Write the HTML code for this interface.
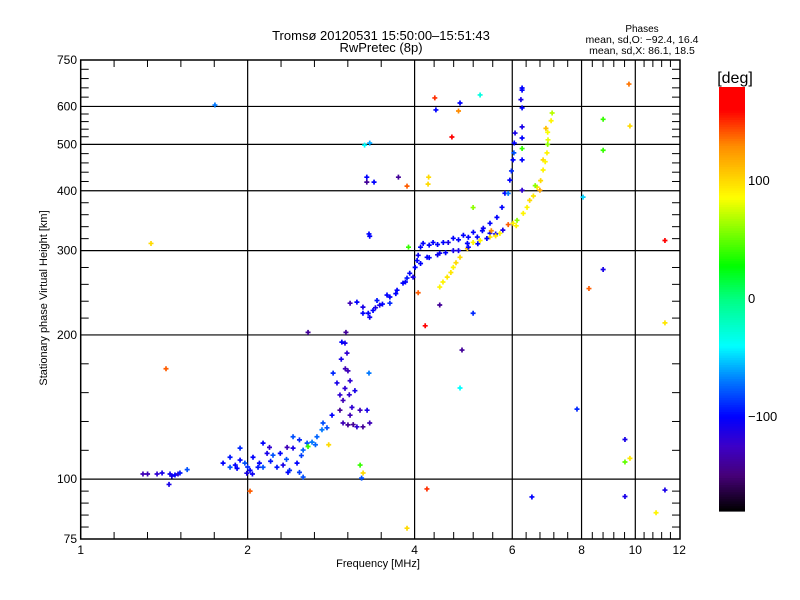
<!DOCTYPE html>
<html><head><meta charset="utf-8"><style>
html,body{margin:0;padding:0;background:#fff;width:800px;height:600px;overflow:hidden}
svg text{font-family:"Liberation Sans",sans-serif;fill:#000}
</style></head><body>
<svg id="chart" width="800" height="600" viewBox="0 0 800 600" xmlns="http://www.w3.org/2000/svg">
<rect width="800" height="600" fill="#fff"/>
<text x="381" y="40" font-size="13" text-anchor="middle">Tromsø 20120531 15:50:00–15:51:43</text>
<text x="381" y="52" font-size="13" text-anchor="middle">RwPretec (8p)</text>
<text x="642" y="32" font-size="10" text-anchor="middle">Phases</text>
<text x="642" y="43" font-size="10.5" text-anchor="middle">mean, sd,O: −92.4, 16.4</text>
<text x="642" y="54" font-size="10.5" text-anchor="middle">mean, sd,X:  86.1, 18.5</text>
<text x="378" y="567" font-size="11" text-anchor="middle">Frequency [MHz]</text>
<text x="0" y="0" font-size="11" text-anchor="middle" transform="translate(47,298) rotate(-90)">Stationary phase Virtual Height [km]</text>
<text x="735" y="83" font-size="16" text-anchor="middle">[deg]</text>
<g id="grid"></g><g id="pts"></g><g id="cbar"></g>
<rect x="80.7" y="60" width="599.3" height="479" fill="none" stroke="#000" stroke-width="1.5"/>
</svg>
<script>
const xTickLabels=[1,2,4,6,8,10,12];
const yTickLabels=[75,100,200,300,400,500,600,750];
const cbarTicks=[100,0,-100];
const freqs=[1.295,1.373,1.402,1.449,1.46,1.479,1.498,1.51,1.556,1.443,1.32,
1.806,1.859,1.859,1.914,1.938,1.938,1.977,1.993,2.02,2.045,2.088,2.132,2.132,2.168,2.19,2.222,2.259,2.29,2.317,2.356,2.365,2.38,2.415,2.415,2.455,2.48,2.48,2.518,2.518,2.56,2.613,2.667,2.723,2.735,2.04,2.57,2.8,
2.839,2.852,2.898,2.934,2.972,2.996,3.008,3.021,3.033,3.06,2.972,3.033,3.148,3.228,3.32,3.084,3.122,3.189,3.284,2.934,2.996,3.06,2.957,3.31,2.57,
3.06,3.148,3.228,3.228,3.32,3.366,3.422,3.46,3.567,3.61,3.61,3.719,3.812,3.876,3.92,3.975,4.009,4.042,4.06,4.144,4.213,4.319,4.44,4.506,4.697,4.697,4.898,4.98,5.105,5.19,5.32,5.47,5.47,5.63,5.75,5.77,5.82,5.94,6.02,6.05,6.07,5.98,6.04,5.9,6.25,6.25,6.25,6.25,6.25,6.25,6.25,6.22,6.25,
4.44,4.58,4.697,4.83,4.98,5.25,5.47,5.70,6.02,6.28,6.45,6.65,6.82,6.93,6.96,7.08,6.82,6.73,6.38,6.12,5.5,5.9,6.9,6.95,6.6,
1.339,1.425,1.746,2.02,3.32,3.32,3.28,3.38,3.876,4.35,4.37,4.83,4.80,4.67,5.25,4.23,4.18,4.44,4.06,4.87,5.10,4.83,4.21,3.876,6.51,8.25,8.75,7.85,9.58,9.58,9.78,9.58,11.31,10.9,11.31,11.31,9.74,8.75,9.78,8.75,8.05,3.19,3.23,3.21,3.9,3.25,3.28,3.74,4.24,3.31,5.1,
4.1,4.25,4.4,4.55,4.8,5.0,5.2,5.4,5.6,4.1,4.25,4.4,4.6,4.8,5.0,5.3,3.3,3.4,3.5,3.7,3.85,
4.5,4.65,4.75,5.1,5.6,6.1,6.55,6.75,6.88,6.95,7.05,
1.9,2.0,2.1,2.2,2.35,2.5,2.65,2.78,3.0,3.05,3.1,2.95];
const heights=[102.5,102.5,103,102.5,101.5,102,102.5,103,104.7,97.5,102.5,
108,111.1,105.9,105.3,116.1,109.6,108,102.9,104.3,111.1,105.9,118.9,105.9,113.2,116.5,112.2,105.9,113.2,107,116.5,103.3,104.3,116.1,122.6,108,120.8,103.3,115,101,118.9,119.5,122.6,126.8,131,102.5,117,118,
136,166.5,158.8,149.9,146,192.3,202.5,183.3,168.3,160.5,131,129.8,128.6,128.6,131,141.2,153,139.3,139.3,139.3,154.7,136,193.2,166.5,202.5,
233,234.2,222,228.6,217.8,225,236,230.8,242.3,240,233,248,256.6,262.9,269,264.1,276.8,286,293.3,310.6,290.5,312,296.3,312,318.3,300,322.9,310.6,327.6,320.2,334,326,342.1,352,369.4,331,395.2,421,464,503.1,527.9,440,480,395,649,595.8,543.8,515.4,464,401,655.6,620,490,
251.8,264.1,276.8,290.5,302.8,315,320.2,326,342.1,358.8,382,407.1,442,479.9,511,581.3,464,401,369.4,347,330,340,540,500,410,
310.5,170,604,94.4,503,321.5,417,417,409,625,590,610,587,518,634,413,209,231,245,186,222,155,95.4,79,91.8,250,274,140,121,108.6,110.5,92,94.9,85.1,315,212,668,564,546,486,388,107,103,100.5,305,498,427,427,427,325,369,
282,290,294,297,300,305,310,318,325,305,308,309,312,316,320,330,222,228,232,244,258,
258,270,283,312,322,338,390,420,460,530,560,
107,106,108,109,110,112,118,128,170,150,130,178];
const phases=[-130,-120,-110,-105,-110,-100,-120,-95,-80,-110,-130,
-100,-95,-80,-100,-90,-100,-80,-110,-100,-100,-95,-100,-80,-110,-120,-80,-95,-100,-110,-130,-100,-90,-110,-80,-100,-90,-85,-75,-80,-80,-70,-75,-70,-80,-105,40,100,
-100,-90,-110,-120,-130,-110,-140,-120,-130,-120,-130,-140,-120,-140,-130,-120,-110,-130,-110,-140,-120,-130,-100,-70,-140,
-130,-100,-100,-110,-105,-100,-95,-110,-100,-100,-90,-100,-100,-95,-100,-110,-100,-100,-105,-100,-100,-100,-105,-100,-100,-110,-100,-100,-100,-100,-105,-100,-100,-100,-100,-110,-100,-100,-100,-100,-110,-90,-80,-70,-100,-100,-110,-100,-100,-120,-100,-110,40,
90,95,90,100,110,90,95,90,90,90,100,95,90,90,80,70,100,120,90,60,130,140,110,60,60,
100,140,-70,140,-60,-100,-140,-100,140,150,-100,-100,130,170,-30,100,170,-140,140,-140,-90,-40,150,100,-100,140,-110,-90,-110,50,95,-110,-110,90,165,95,135,40,100,40,-50,40,100,-80,40,-40,-100,-140,100,-100,60,
-100,-100,-105,-100,-110,-100,-100,-100,-105,-100,-100,-100,-110,-100,-100,-100,-100,-110,-100,-100,-100,
90,95,100,90,95,90,95,100,90,85,90,
-100,-90,-100,-95,-80,-85,-75,-80,-130,-120,-140,-110];

const X0=80.7,XD=554.6,YB=539,YD=479,XR=680,YT=60;
const xs=f=>X0+XD*Math.log10(f);
const ys=h=>YB-YD*Math.log10(h/75);
const NS='http://www.w3.org/2000/svg';
function mk(t,a,p){const e=document.createElementNS(NS,t);for(const k in a)e.setAttribute(k,a[k]);p.appendChild(e);return e;}
const stops=[[-180,[0,0,0]],[-150,[70,0,120]],[-125,[60,0,200]],[-100,[0,0,255]],[-70,[0,120,255]],[-40,[0,255,255]],[0,[0,255,130]],[28,[0,255,0]],[86,[255,255,0]],[130,[255,140,0]],[160,[255,0,0]],[180,[255,0,0]]];
function cmap(v){v=Math.max(-180,Math.min(180,v));for(let i=0;i<stops.length-1;i++){const a=stops[i],b=stops[i+1];if(v<=b[0]){const t=(v-a[0])/(b[0]-a[0]);return 'rgb('+a[1].map((c,j)=>Math.round(c+(b[1][j]-c)*t)).join(',')+')';}}return 'rgb(255,0,0)';}

const grid=document.getElementById('grid');
for(let i=0;i<xTickLabels.length;i++){
  const v=xTickLabels[i],x=xs(v);
  if(i>0&&i<xTickLabels.length-1){const l=mk('line',{x1:x,x2:x,y1:YT,y2:YB,stroke:'#000','stroke-width':1.2},grid);
    
    }
  const t=mk('text',{x:x,y:YB+15,'font-size':12,'text-anchor':'middle'},grid);t.textContent=v;
  
  
  if(i<xTickLabels.length-1){const a=Math.log10(v),b=Math.log10(xTickLabels[i+1]);
    for(let k=1;k<5;k++){const mx=X0+XD*(a+(b-a)*k/5);
      mk('line',{x1:mx,x2:mx,y1:YB,y2:YB-7,stroke:'#000','stroke-width':1},grid);
      mk('line',{x1:mx,x2:mx,y1:YT,y2:YT+7,stroke:'#000','stroke-width':1},grid);}}
}
for(let i=0;i<yTickLabels.length;i++){
  const v=yTickLabels[i],y=ys(v);
  if(i>0&&i<yTickLabels.length-1){const l=mk('line',{x1:X0,x2:XR,y1:y,y2:y,stroke:'#000','stroke-width':1.2},grid);
    
    }
  const t=mk('text',{x:77,y:y+4,'font-size':12,'text-anchor':'end'},grid);t.textContent=v;
  
  
  if(i<yTickLabels.length-1){const a=Math.log10(v/75),b=Math.log10(yTickLabels[i+1]/75);
    for(let k=1;k<5;k++){const my=YB-YD*(a+(b-a)*k/5);
      mk('line',{x1:X0,x2:X0+8,y1:my,y2:my,stroke:'#000','stroke-width':1},grid);
      mk('line',{x1:XR,x2:XR-8,y1:my,y2:my,stroke:'#000','stroke-width':1},grid);}}
}
const pts=document.getElementById('pts');
for(let i=0;i<freqs.length;i++){
  const x=xs(freqs[i]),y=ys(heights[i]);
  const p=mk('path',{d:`M${x-2.5} ${y}h5M${x} ${y-2.5}v5`,stroke:cmap(phases[i]),'stroke-width':1.7,fill:'none'},pts);
  
  
}
const cb=document.getElementById('cbar');
const CT=87,CBt=511,CX=719,CW=26;
const cy=v=>CT+(180-v)/360*(CBt-CT);
for(let v=180;v>-180;v-=2){mk('rect',{x:CX,y:cy(v),width:CW,height:(CBt-CT)/180+0.6,fill:cmap(v-1)},cb);}
const cbr=mk('rect',{x:CX,y:CT,width:CW,height:CBt-CT,fill:'none',stroke:'none'},cb);


for(const v of cbarTicks){const t=mk('text',{x:748,y:cy(v)+4,'font-size':13},cb);t.textContent=v<0?'−'+(-v):String(v);
  
  }
</script>
</body></html>
